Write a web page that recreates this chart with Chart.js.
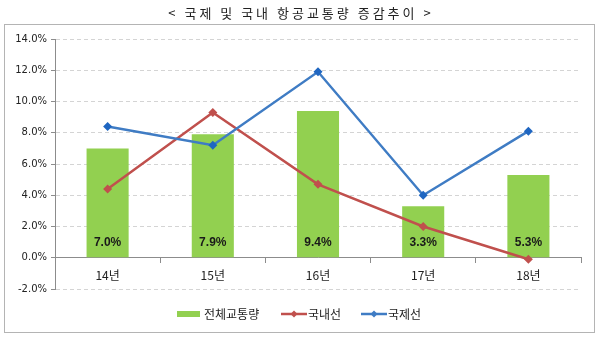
<!DOCTYPE html>
<html>

<head>
    <meta charset="UTF-8">
    <title>항공교통량 증감추이</title>
    <script src="https://cdn.jsdelivr.net/npm/chart.js@4.4.1/dist/chart.umd.min.js"></script>
    <style>
        html, body { margin: 0; padding: 0; background: #ffffff; }
    </style>
</head>

<body>
    <canvas id="chart" width="600" height="341"></canvas>
    <script>
        // data (%)
        const years = ['14년', '15년', '16년', '17년', '18년'];
        const totalTraffic = [7.0, 7.9, 9.4, 3.3, 5.3];   // 전체교통량
        const domestic = [4.4, 9.3, 4.7, 2.0, -0.1];      // 국내선
        const international = [8.4, 7.2, 11.9, 4.0, 8.1]; // 국제선
        const totalLabels = ['7.0%', '7.9%', '9.4%', '3.3%', '5.3%'];

        const KR = '"Noto Sans CJK KR", "Noto Sans", sans-serif';

        // title, frame, bar value labels and legend
        const decorations = {
            id: 'decorations',
            afterDatasetsDraw(chart) {
                const ctx = chart.ctx;
                const meta = chart.getDatasetMeta(2);
                const yZero = chart.scales.y.getPixelForValue(0);
                ctx.save();
                ctx.font = 'bold 12px "Liberation Sans", Arial, sans-serif';
                ctx.fillStyle = '#1a1a1a';
                ctx.textAlign = 'center';
                ctx.textBaseline = 'middle';
                meta.data.forEach((bar, i) => {
                    ctx.fillText(totalLabels[i], bar.x, yZero - 15);
                });
                ctx.restore();
            },
            afterDraw(chart) {
                const ctx = chart.ctx;
                ctx.save();
                // outer frame
                ctx.strokeStyle = '#b4b4b4';
                ctx.lineWidth = 1;
                ctx.strokeRect(4.5, 24.5, 590, 308);

                // title
                ctx.font = '13px ' + KR;
                ctx.letterSpacing = '3px';
                ctx.fillStyle = '#222222';
                ctx.textAlign = 'center';
                ctx.textBaseline = 'middle';
                ctx.fillText('< 국제 및 국내 항공교통량 증감추이 >', 301, 13);
                ctx.letterSpacing = '0px';

                // legend
                const ly = 314;
                ctx.font = '12px ' + KR;
                ctx.textAlign = 'left';
                ctx.fillStyle = '#92d050';
                ctx.fillRect(177, ly - 3, 23, 6);
                ctx.fillStyle = '#222222';
                ctx.fillText('전체교통량', 204, ly);

                const lineKey = (x0, color, text) => {
                    ctx.strokeStyle = color;
                    ctx.lineWidth = 2.5;
                    ctx.beginPath();
                    ctx.moveTo(x0, ly);
                    ctx.lineTo(x0 + 26, ly);
                    ctx.stroke();
                    ctx.fillStyle = color;
                    ctx.beginPath();
                    ctx.moveTo(x0 + 13, ly - 3.5);
                    ctx.lineTo(x0 + 16.5, ly);
                    ctx.lineTo(x0 + 13, ly + 3.5);
                    ctx.lineTo(x0 + 9.5, ly);
                    ctx.closePath();
                    ctx.fill();
                    ctx.fillStyle = '#222222';
                    ctx.fillText(text, x0 + 27, ly);
                };
                lineKey(281, '#c0504d', '국내선');
                lineKey(361, '#3f7cc4', '국제선');
                ctx.restore();
            }
        };

        const ctx = document.getElementById('chart').getContext('2d');
        const chart = new Chart(ctx, {
            data: {
                labels: years,
                datasets: [{
                    type: 'line',
                    label: '국제선',
                    data: international,
                    borderColor: '#3f7cc4',
                    backgroundColor: '#1f66c1',
                    borderWidth: 2.5,
                    pointStyle: 'rectRot',
                    pointRadius: 4.5,
                    pointBorderWidth: 0,
                    tension: 0,
                    order: 0
                }, {
                    type: 'line',
                    label: '국내선',
                    data: domestic,
                    borderColor: '#c0504d',
                    backgroundColor: '#c0504d',
                    borderWidth: 2.5,
                    pointStyle: 'rectRot',
                    pointRadius: 4.5,
                    pointBorderWidth: 0,
                    tension: 0,
                    order: 1
                }, {
                    type: 'bar',
                    label: '전체교통량',
                    data: totalTraffic,
                    backgroundColor: '#92d050',
                    barPercentage: 0.4,
                    categoryPercentage: 1.0,
                    order: 2
                }]
            },
            options: {
                responsive: false,
                animation: false,
                layout: {
                    padding: { top: 39, bottom: 52, left: 8, right: 19 }
                },
                plugins: {
                    legend: { display: false },
                    title: { display: false },
                    tooltip: { enabled: false }
                },
                scales: {
                    x: {
                        type: 'category',
                        position: { y: 0 },
                        offset: true,
                        grid: {
                            offset: true,
                            drawOnChartArea: false,
                            tickLength: 5,
                            tickColor: '#8c8c8c'
                        },
                        border: { color: '#8c8c8c' },
                        ticks: {
                            padding: 5,
                            color: '#222222',
                            font: { family: KR, size: 12 }
                        }
                    },
                    y: {
                        min: -2,
                        max: 14,
                        afterFit(scale) { scale.width = 47; },
                        grid: {
                            color: '#d4d4d4',
                            tickColor: '#8c8c8c',
                            tickLength: 4
                        },
                        border: { color: '#8c8c8c', dash: [4, 3] },
                        ticks: {
                            stepSize: 2,
                            padding: 4,
                            color: '#222222',
                            font: { family: '"DejaVu Sans", sans-serif', size: 10 },
                            callback: v => v.toFixed(1) + '%'
                        }
                    }
                }
            },
            plugins: [decorations]
        });
    </script>
</body>

</html>
